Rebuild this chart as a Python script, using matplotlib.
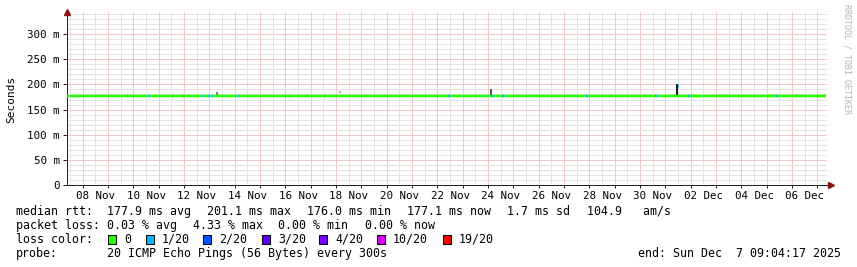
import datetime as dt

import matplotlib
matplotlib.use("Agg")
import matplotlib.pyplot as plt
from matplotlib.patches import Rectangle

# ── Data (x in days since START) ──
START = dt.datetime(2025, 11, 7, 9, 4, 17)
END = dt.datetime(2025, 12, 7, 9, 4, 17)

median_ms = 177.9
median_end_day = 29.98

low_start_day = [14.02, 18.52, 24.68, 25.67, 26.66, 27.21, 27.65, 28.67, 29.62]
low_end_day = [14.10, 18.68, 24.96, 26.07, 26.94, 27.29, 28.00, 29.03, 29.98]
low_ms = 176.0

loss_day = [2.37, 3.20, 4.19, 4.58, 5.33, 5.57, 5.73, 6.75, 8.77, 10.19,
            15.05, 16.75, 17.18, 20.50, 23.22, 24.53, 28.00]

smoke_day = [5.92, 10.78, 16.75, 24.09]
smoke_low_ms = [178.0, 182.0, 178.0, 177.0]
smoke_high_ms = [184.0, 186.0, 190.0, 201.0]
smoke_shade = ["#808080", "#b4b4b4", "#555555", "#1e1e1e"]

loss_labels = ["0", "1/20", "2/20", "3/20", "4/20", "10/20", "19/20"]
loss_colors = ["#26ff00", "#00b8ff", "#0059ff", "#5e00ff", "#7e00ff", "#dd00ff", "#ff0000"]

y_ticks_ms = [0, 50, 100, 150, 200, 250, 300]

rtt_items = ["median rtt:", "177.9 ms avg", "201.1 ms max", "176.0 ms min",
             "177.1 ms now", "1.7 ms sd", "104.9   am/s"]
loss_items = ["packet loss:", "0.03 % avg", "4.33 % max", "0.00 % min", "0.00 % now"]
probe_items = ["probe:", "20 ICMP Echo Pings (56 Bytes) every 300s"]
end_line = "end: Sun Dec  7 09:04:17 2025"

# ── Layout (pixels in the 857x267 image) ──
W, H = 857, 267
MONO = "DejaVu Sans Mono"
PX = 72 / 100.0  # points per pixel
rtt_x = [16, 107, 207, 307, 407, 507, 587]
loss_x = [16, 107, 193, 278, 365]
probe_x = [16, 107]
box_x = [108, 146, 203, 262, 319, 377, 443]

fig = plt.figure(figsize=(W / 100, H / 100), dpi=100, facecolor="white")
ax = fig.add_axes([67 / W, 1 - 185 / H, (827 - 67) / W, (185 - 12) / H])
total_days = (END - START).total_seconds() / 86400
ax.set_xlim(0, total_days)
ax.set_ylim(0, 344)
ax.set_facecolor("white")


def day_of(t):
    return (t - START).total_seconds() / 86400


# grid: rrdtool's 1px dotted lines, drawn as their blended tone
minor_c, major_c = "#e3e3e3", "#f2c8c8"
gkw = dict(lw=PX)
for v in range(10, 344, 10):
    if v % 50:
        ax.axhline(v, color=minor_c, zorder=1, **gkw)
first_mid = dt.datetime(2025, 11, 8)
midnights = [day_of(first_mid + dt.timedelta(days=i)) for i in range(30)]
noons = [m - 0.5 for m in midnights] + [midnights[-1] + 0.5]
for n in noons:
    if 0 < n < total_days:
        ax.axvline(n, color=minor_c, zorder=1, **gkw)
for v in range(50, 344, 50):
    ax.axhline(v, color=major_c, zorder=1.5, **gkw)
for m in midnights:
    ax.axvline(m, color=major_c, zorder=1.5, **gkw)

# smoke
for d, lo, hi, c in zip(smoke_day, smoke_low_ms, smoke_high_ms, smoke_shade):
    ax.vlines(d, lo, hi, color=c, lw=2 * PX, zorder=2)

# median line coloured by loss
line_w = 2.4 * PX
ax.hlines(median_ms, 0, median_end_day, color=loss_colors[0], lw=line_w, zorder=3)
for s, e in zip(low_start_day, low_end_day):
    ax.hlines(low_ms, s, e, color=loss_colors[0], lw=line_w, zorder=3)
px_day = total_days / (827 - 67)
for d in loss_day:
    ax.hlines(median_ms, d, d + 1.3 * px_day, color=loss_colors[1], lw=line_w, zorder=4)
# loss-coloured tip of the max spike
ax.vlines(smoke_day[-1] + px_day, 195, smoke_high_ms[-1], color=loss_colors[1], lw=PX, zorder=4)

# axes styling
for s in ("top", "right"):
    ax.spines[s].set_visible(False)
for s in ("left", "bottom"):
    ax.spines[s].set_color("#202020")
    ax.spines[s].set_linewidth(PX)

ax.set_yticks(y_ticks_ms)
ax.set_yticklabels(["0" if v == 0 else f"{v} m" for v in y_ticks_ms])
ax.tick_params(axis="y", direction="out", length=3, width=PX, pad=2.2,
               labelsize=7.8, color="#202020")
ax.set_xticks(midnights)
ax.set_xticklabels([])
ax.tick_params(axis="x", which="major", direction="out", length=2, width=PX,
               color="#202020")
label_pos = [day_of(dt.datetime(2025, 11, 8, 12) + dt.timedelta(days=2 * i)) for i in range(15)]
label_txt = [(dt.datetime(2025, 11, 8) + dt.timedelta(days=2 * i)).strftime("%d %b") for i in range(15)]
ax.set_xticks(label_pos, minor=True)
ax.set_xticklabels(label_txt, minor=True)
ax.tick_params(axis="x", which="minor", length=0, pad=4, labelsize=7.8)
for lbl in ax.get_xticklabels(minor=True) + ax.get_yticklabels():
    lbl.set_family(MONO)

fig.text(11 / W, 1 - 99 / H, "Seconds", family=MONO, fontsize=8, rotation=90,
         ha="center", va="center")

# axis arrows
arrow_c = "#8b1010"
ax.plot([0], [1], marker="^", ms=4.5, color=arrow_c, transform=ax.transAxes,
        clip_on=False, zorder=6)
ax.plot([(831 - 67) / (827 - 67)], [0], marker=">", ms=4.5, color=arrow_c,
        transform=ax.transAxes, clip_on=False, zorder=6)
ax.plot([1, (830 - 67) / (827 - 67)], [0, 0], color="#202020", lw=PX,
        transform=ax.transAxes, clip_on=False)

# watermark
fig.text(847 / W, 1 - 4 / H, "RRDTOOL / TOBI OETIKER", rotation=270, va="top",
         ha="center", color="#b4b4b4", fontsize=6, family=MONO)

# legend text
fs = 8.4


def put(xpx, ybase, s, **kw):
    fig.text(xpx / W, 1 - ybase / H, s, family=MONO, fontsize=fs, va="baseline", **kw)


for xp, s in zip(rtt_x, rtt_items):
    put(xp, 215, s)
for xp, s in zip(loss_x, loss_items):
    put(xp, 229, s)
put(16, 243, "loss color:")
for xp, s in zip(probe_x, probe_items):
    put(xp, 257, s)
put(841, 257, end_line, ha="right")

for xp, lab, col in zip(box_x, loss_labels, loss_colors):
    fig.patches.append(Rectangle((xp / W, 1 - 244 / H), 8 / W, 9 / H, facecolor=col,
                                 edgecolor="black", lw=PX, transform=fig.transFigure))
    put(xp + 16, 243, lab)

fig.savefig("out.png", dpi=100, facecolor="white")
